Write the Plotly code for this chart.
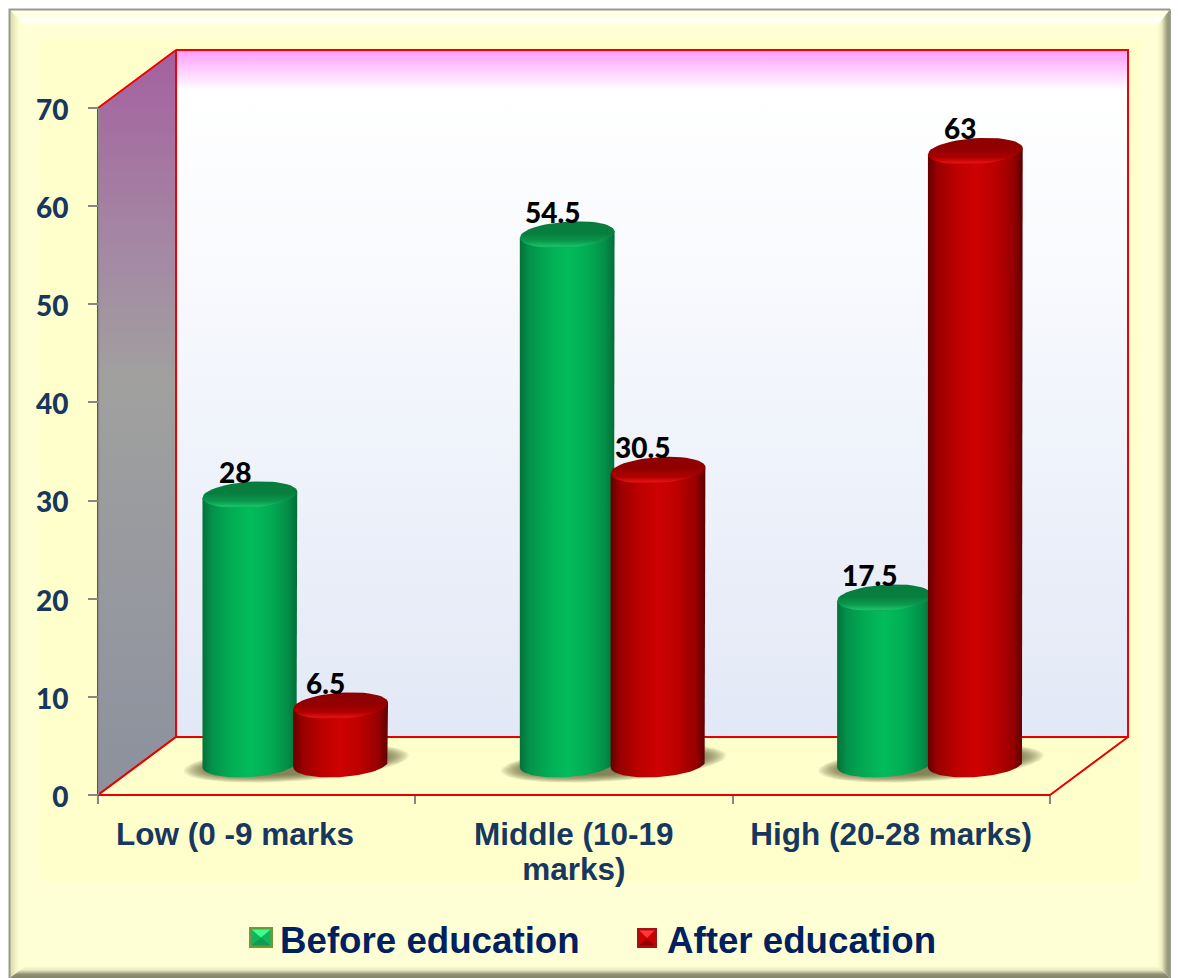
import math
import plotly.graph_objects as go

# Chart data
categories = ["Low (0 -9 marks", "Middle (10-19<br>marks)", "High (20-28 marks)"]
series_names = ["Before education", "After education"]
before_education = [28, 54.5, 17.5]
after_education = [6.5, 30.5, 63]
y_ticks = [0, 10, 20, 30, 40, 50, 60, 70]

W, H = 1178, 978

# Front plane of the 3D box: value 0 at FRONT_Y, 70 at 108; category edges 317.33 px apart
FRONT_Y, PX_PER_UNIT = 795.0, 9.814
FRONT_X0, PX_PER_CAT = 256.5, 317.33
# Cylinders stand inside the box, so their axes sit at a depth offset
CYL_Y, CYL_X0 = 769.5, 295.25
CYL_RX, CYL_RY, CYL_TILT, CYL_GAP, CYL_LIFT = 47.5, 13.0, math.radians(4), 45.4, 0.55


def xv(px):
    return (px - CYL_X0) / PX_PER_CAT


def poly(xs, ys, **kw):
    """Filled polygon in canvas pixels."""
    return go.Scatter(x=list(xs) + [xs[0]], y=list(ys) + [ys[0]], xaxis="x", yaxis="y",
                      mode="lines", fill="toself", hoverinfo="skip", showlegend=False, **kw)


def rect(x0, y0, x1, y1, **kw):
    return poly([x0, x1, x1, x0], [y0, y0, y1, y1], **kw)


def flat(color):
    return dict(fillcolor=color, line=dict(width=0))


def hgrad(stops):
    return dict(fillgradient=dict(type="horizontal", colorscale=stops), fillcolor="rgba(0,0,0,0)",
                line=dict(width=0))


def top_down(stops):
    # plotly runs vertical gradients from the bottom of the screen upward
    return [[1 - s, c] for s, c in reversed(stops)]


def vgrad(stops):
    return dict(fillgradient=dict(type="vertical", colorscale=top_down(stops)), fillcolor="rgba(0,0,0,0)",
                line=dict(width=0))


traces = []

# Bevelled outer frame
L, T, R, B = 9.5, 9.5, 1170, 978
IL, IT, IR, IB = 26, 26, 1157, 966
traces.append(rect(L, T, R, B, **flat("#FFFFD6")))
traces.append(poly([L, R, IR, IL], [T, T, IT, IT],
                   **vgrad([[0, "#FFFFE0"], [0.45, "#FFFFE8"], [0.6, "#FFFFFF"], [0.75, "#FFFFF0"], [1, "#FFFFD6"]])))
traces.append(poly([L, IL, IL, L], [T, IT, IB, B],
                   **hgrad([[0, "#D6D6A8"], [0.35, "#F0F0C4"], [0.6, "#FFFFD6"], [1, "#FFFFD6"]])))
traces.append(poly([R, R, IR, IR], [T, B, IB, IT],
                   **hgrad([[0, "#FFFFD6"], [0.35, "#EFEFC0"], [0.75, "#A2A284"], [1, "#8A8A70"]])))
traces.append(poly([L, R, IR, IL], [B, B, IB, IB],
                   **vgrad([[0, "#FFFFD6"], [0.35, "#E8E8BC"], [0.7, "#8F8F76"], [1, "#85856C"]])))
traces.append(go.Scatter(x=[L, L, R], y=[B, T, T], xaxis="x", yaxis="y", mode="lines",
                         line=dict(color="#9A9A92", width=2), hoverinfo="skip", showlegend=False))
traces.append(go.Scatter(x=[R, R], y=[T, B], xaxis="x", yaxis="y", mode="lines",
                         line=dict(color="#9A9A92", width=2), hoverinfo="skip", showlegend=False))
traces.append(rect(39, 39, 1140, 881, **flat("#FFFFCC")))

# Back wall, side wall and floor of the box
wall_line = dict(color="#F00000", width=2)
back_wall = vgrad([[0, "#FF9CFF"], [0.058, "#FFFFFF"], [0.35, "#F7F9FD"], [1, "#E2E8F6"]])
back_wall["line"] = wall_line
traces.append(rect(176, 50, 1128, 737, **back_wall))
side_wall = vgrad([[0, "#A5609F"], [0.28, "#A48AA4"], [0.44, "#A0A09E"], [0.75, "#9698A0"], [1, "#8C919C"]])
side_wall["line"] = wall_line
traces.append(poly([98, 176, 176, 98], [108, 50, 737, 795], **side_wall))
traces.append(poly([98, 176, 1128, 1050], [795, 737, 737, 795],
                   fillcolor="#FFFFCC", line=dict(color="#E80000", width=2)))


# Cylinders, built from the series values on their own axes
def ellipse_pt(xc_px, yc_val, t, rx=CYL_RX, ry=CYL_RY):
    dx, dy = rx * math.cos(t), ry * math.sin(t)
    ex = dx * math.cos(CYL_TILT) - dy * math.sin(CYL_TILT)
    ey = dx * math.sin(CYL_TILT) + dy * math.cos(CYL_TILT)
    return xv(xc_px + ex), yc_val + ey / PX_PER_UNIT


def arc(xc_px, yc_val, t0, t1, n=48, rx=CYL_RX, ry=CYL_RY):
    pts = [ellipse_pt(xc_px, yc_val, t0 + (t1 - t0) * i / n, rx, ry) for i in range(n + 1)]
    return [p[0] for p in pts], [p[1] for p in pts]


def on_cyl(xs, ys, **kw):
    return go.Scatter(x=xs + [xs[0]], y=ys + [ys[0]], xaxis="x3", yaxis="y3", mode="lines",
                      fill="toself", showlegend=False, **kw)


palettes = {
    "Before education": dict(
        body=[[0, "#03703A"], [0.1, "#03924A"], [0.3, "#02AC54"], [0.5, "#02BC5C"],
              [0.72, "#02AC54"], [0.9, "#038E47"], [1, "#036E38"]],
        top=[[0, "#0AA350"], [0.07, "#1CC068"], [0.25, "#0A9A4E"], [0.55, "#077E3E"], [1, "#067C3D"]]),
    "After education": dict(
        body=[[0, "#640000"], [0.1, "#9A0000"], [0.3, "#BC0000"], [0.5, "#CE0202"],
              [0.72, "#BA0000"], [0.9, "#960000"], [1, "#5E0000"]],
        top=[[0, "#BE0000"], [0.07, "#E41010"], [0.25, "#B00000"], [0.55, "#920000"], [1, "#8E0000"]]),
}

shadows, bodies = [], []
for i in range(len(categories)):
    left_px = CYL_X0 + i * PX_PER_CAT - CYL_GAP
    right_px = CYL_X0 + i * PX_PER_CAT + CYL_GAP
    # soft contact shadow: concentric translucent ellipses, blurred outward
    layers = 12
    for k in range(layers):
        grow = 1 - k / (layers - 1)
        half = (right_px - left_px) / 2 + CYL_RX + 24 * grow - 4
        sx, sy = arc((left_px + right_px) / 2 + 1, CYL_LIFT + 0.1, 0, 2 * math.pi, n=72,
                     rx=half, ry=11 + 7 * grow)
        shadows.append(on_cyl(sx[:-1], sy[:-1], hoverinfo="skip",
                              fillcolor="rgba(85,85,50,0.1)", line=dict(width=0)))

    for name, values, xc in [(series_names[0], before_education, left_px),
                             (series_names[1], after_education, right_px)]:
        v = values[i]
        p = palettes[name]
        bx, by = arc(xc, CYL_LIFT, 0, -math.pi)
        tr = ellipse_pt(xc, v, 0)
        tl = ellipse_pt(xc, v, math.pi)
        bodies.append(on_cyl([tr[0]] + bx + [tl[0]], [tr[1]] + by + [tl[1]],
                             fillgradient=dict(type="horizontal", colorscale=p["body"]),
                             fillcolor="rgba(0,0,0,0)", line=dict(width=0),
                             hovertemplate=f"{name}: {v}<extra></extra>"))
        ex, ey = arc(xc, v, 0, 2 * math.pi)
        bodies.append(on_cyl(ex[:-1], ey[:-1],
                             fillgradient=dict(type="vertical", colorscale=p["top"]),
                             fillcolor="rgba(0,0,0,0)", line=dict(width=0), hoverinfo="skip"))

# Pyramid-shaded legend keys
key_styles = [
    (249, 927, 24, 21, "#6E9A3C", "#3CFF8C", "#14B45E", "#0E9C50"),
    (637, 928, 20, 20, "#A01414", "#FF3838", "#CC0000", "#960000"),
]
for kx, ky, kw, kh, border, hi, mid, lo in key_styles:
    x0, y0, x1, y1 = kx, ky, kx + kw, ky + kh
    traces.append(rect(x0, y0, x1, y1, **flat(border)))
    a0, b0, a1, b1 = x0 + 2.5, y0 + 2.5, x1 - 2.5, y1 - 2.5
    cx, cy = (a0 + a1) / 2, (b0 + b1) / 2
    traces.append(rect(a0, b0, a1, b1, **flat(mid)))
    traces.append(poly([a0, a1, cx], [b0, b0, cy], **flat(hi)))
    traces.append(poly([a0, a1, cx], [b1, b1, cy], **flat(lo)))

# Carrier trace so the front axes are drawn
axis_carrier = go.Scatter(x=[None], y=[None], xaxis="x2", yaxis="y2", mode="markers",
                          showlegend=False, hoverinfo="skip")
legend_entries = [
    go.Scatter(x=[None], y=[None], xaxis="x3", yaxis="y3", mode="markers", name=n,
               marker=dict(symbol="square", size=16, color="rgba(0,0,0,0)"))
    for n in series_names
]

fig = go.Figure(traces + [axis_carrier] + shadows + bodies + legend_entries)

# Value labels sit up and to the left of each cylinder top
annotations = []
for i in range(len(categories)):
    for values, off in [(before_education, -CYL_GAP), (after_education, CYL_GAP)]:
        annotations.append(dict(
            x=i + off / PX_PER_CAT, y=values[i], xref="x3", yref="y3", text=str(values[i]),
            showarrow=False, xshift=-15, yshift=23,
            font=dict(family="Lato", size=28, color="#000000", weight=900)))


def tick_markup(label):
    # line pitch follows the axis font size; the glyphs are set larger inside spans
    return "<br>".join(f'<span style="font-size:31.5px">{part}</span>' for part in label.split("<br>"))


hidden = dict(visible=False, showgrid=False, zeroline=False, fixedrange=True)
fig.update_layout(
    width=W, height=H, autosize=False,
    margin=dict(l=0, r=0, t=0, b=0, pad=0),
    paper_bgcolor="#FFFFFF", plot_bgcolor="rgba(0,0,0,0)",
    hovermode="closest",
    xaxis=dict(range=[0, W], domain=[0, 1], **hidden),
    yaxis=dict(range=[H, 0], domain=[0, 1], **hidden),
    xaxis2=dict(
        overlaying="x", anchor="free", position=(H - FRONT_Y) / H, domain=[0, 1],
        range=[(0 - FRONT_X0) / PX_PER_CAT, (W - FRONT_X0) / PX_PER_CAT],
        tickmode="array", tickvals=[(235 - FRONT_X0) / PX_PER_CAT, 1, 2],
        ticktext=[tick_markup(c) for c in categories],
        ticks="", ticklabelstandoff=22, showgrid=False, zeroline=False, showline=False,
        tickfont=dict(family="Liberation Sans", size=27, color="#17375E", weight=700),
        tickangle=0,
        minor=dict(tickmode="array", tickvals=[-0.5, 0.5, 1.5, 2.5], ticks="outside", ticklen=8,
                   tickwidth=2, tickcolor="#868686", showgrid=False),
    ),
    yaxis2=dict(
        overlaying="y", anchor="free", position=98 / W, domain=[0, 1], side="left",
        range=[(FRONT_Y - H) / PX_PER_UNIT, FRONT_Y / PX_PER_UNIT],
        tickmode="array", tickvals=y_ticks, ticks="outside", ticklen=10, tickwidth=2,
        tickcolor="#868686", ticklabelstandoff=14, ticklabelshift=2, showgrid=False, zeroline=False,
        showline=False,
        tickfont=dict(family="Lato", size=28, color="#17375E", weight=900),
    ),
    xaxis3=dict(overlaying="x", range=[xv(0), xv(W)], domain=[0, 1], **hidden),
    yaxis3=dict(overlaying="y", range=[(CYL_Y - H) / PX_PER_UNIT, CYL_Y / PX_PER_UNIT], domain=[0, 1], **hidden),
    legend=dict(
        orientation="h", x=240 / W, xanchor="left", y=(H - 939) / H, yanchor="middle",
        bgcolor="rgba(0,0,0,0)", borderwidth=0, entrywidth=342, entrywidthmode="pixels",
        font=dict(family="Liberation Sans", size=36.7, color="#002060", weight=700),
    ),
    annotations=annotations,
    # Grey value axis along the front edge of the side wall
    shapes=[dict(type="line", xref="paper", yref="paper", x0=98.5 / W, x1=98.5 / W,
                 y0=(H - 108) / H, y1=(H - 795) / H, line=dict(color="#8A8A8A", width=1.5), layer="above")],
)

fig.write_html("out.html", config=dict(displayModeBar=False))
